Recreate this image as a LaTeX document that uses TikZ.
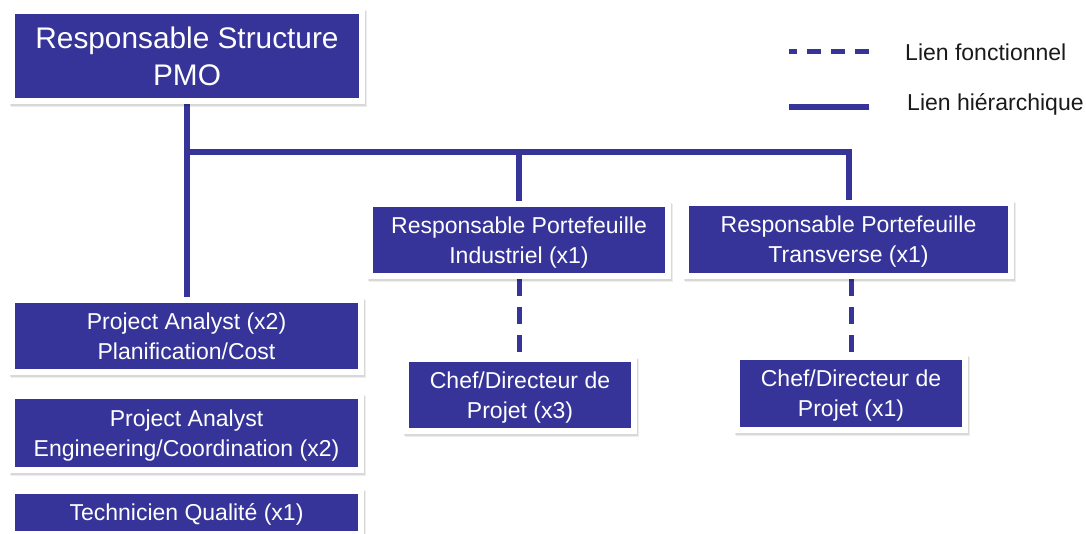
\documentclass[tikz,border=0pt]{standalone}
\usepackage{fontspec}
\setmainfont{Liberation Sans}
\usetikzlibrary{backgrounds}
\definecolor{pmoblue}{RGB}{54,52,152}
\definecolor{legendtext}{RGB}{26,26,26}
\begin{document}
\begin{tikzpicture}[x=1pt,y=-1pt,
  softshadow/.style={
    preaction={fill=black, draw=black, opacity=0.07,
      transform canvas={xshift=2pt,yshift=-3pt}},
    preaction={fill=black, draw=black, opacity=0.09,
      transform canvas={xshift=1pt,yshift=-1.5pt}}},
  unit/.style={rectangle, fill=pmoblue, draw=white, line width=6pt,
    text=white, align=center, inner sep=0pt, text depth=0pt,
    font=\fontsize{23}{30}\selectfont, softshadow},
  hier/.style={draw=pmoblue, line width=6pt,
    preaction={draw=black, opacity=0.1,
      transform canvas={xshift=1pt,yshift=-1.5pt}}},
  func/.style={draw=pmoblue, line width=5pt, dash pattern=on 17pt off 11pt},
  legendlabel/.style={anchor=base west, inner sep=0pt, text=legendtext,
    font=\fontsize{23}{28}\selectfont}
]
\useasboundingbox (0,0) rectangle (1086,533);

% head of the structure
\node[unit, minimum width=350pt, minimum height=90pt, text depth=,
      font=\fontsize{29.8}{37}\selectfont] (pmo) at (187,56)
  {Responsable Structure\\PMO};

% staff directly under the PMO
\node[unit, minimum width=349pt, minimum height=72pt] (pa1) at (186.5,336)
  {Project Analyst (x2)\\Planification/Cost};
\node[unit, minimum width=349pt, minimum height=74pt] (pa2) at (186.5,433)
  {Project Analyst\\Engineering/Coordination (x2)};
\node[unit, minimum width=349pt, minimum height=43pt] (tq) at (186.5,512.5)
  {Technicien Qualité (x1)};

% portfolio managers
\node[unit, minimum width=298pt, minimum height=72pt] (ind) at (519,240)
  {Responsable Portefeuille\\Industriel (x1)};
\node[unit, minimum width=325pt, minimum height=73pt] (trans) at (848.5,239.5)
  {Responsable Portefeuille\\Transverse (x1)};

% project leaders
\node[unit, minimum width=228pt, minimum height=72pt] (chef3) at (520,395)
  {Chef/Directeur de\\Projet (x3)};
\node[unit, minimum width=228pt, minimum height=73pt] (chef1) at (851,393.5)
  {Chef/Directeur de\\Projet (x1)};

% links
\begin{scope}[on background layer]
  \coordinate (bus) at (187,152);
  \draw[hier] (pmo.south) -- (pmo.south |- pa1.north);
  \draw[hier] (bus) -| (trans.north);
  \draw[hier] (bus -| ind.north) -- (ind.north);
  \draw[func] (ind.south) -- (ind.south |- chef3.north);
  \draw[func] (chef1.north |- trans.south) -- (chef1.north);
\end{scope}

% legend
\coordinate (fa) at (789,51);
\coordinate (fb) at (870,51);
\coordinate (ha) at (789,107);
\coordinate (hb) at (869,107);
\draw[draw=pmoblue, line width=5pt, dash pattern=on 14pt off 10pt, dash phase=6pt]
  (fa) -- (fb);
\draw[hier] (ha) -- (hb);
\node[legendlabel] (lf) at (905,60) {Lien fonctionnel};
\node[legendlabel] (lh) at (907,110) {Lien hiérarchique};
\end{tikzpicture}
\end{document}
